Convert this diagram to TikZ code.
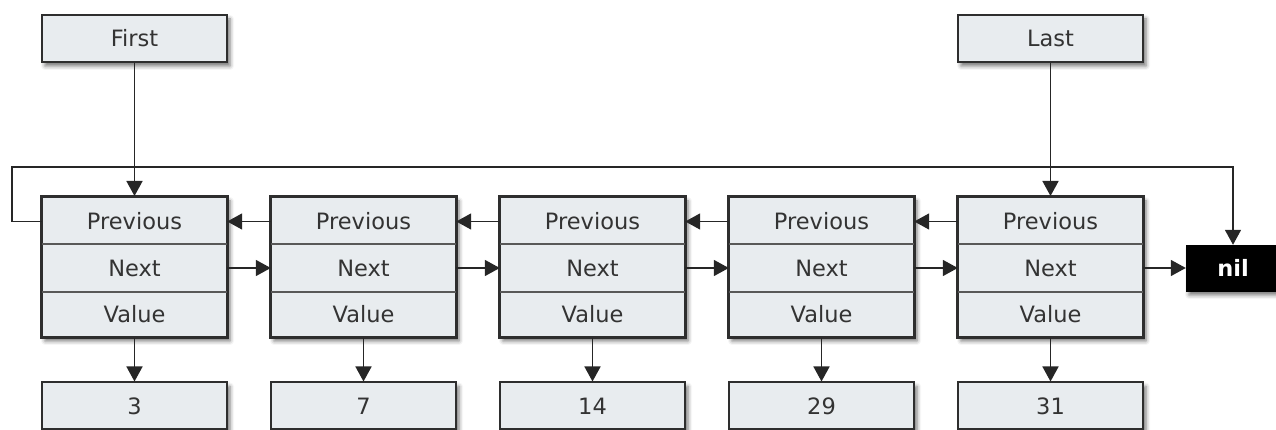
\documentclass[tikz,border=0pt]{standalone}
\usepackage{fontspec}
\setmainfont{DejaVu Sans}
\usetikzlibrary{arrows.meta,shadows.blur}
\definecolor{boxfill}{HTML}{E8ECEF}
\definecolor{boxline}{HTML}{2E2E2E}
\definecolor{txt}{HTML}{333333}
\tikzset{
  x=1pt,y=1pt,
  shadowed/.style={blur shadow={shadow xshift=3pt,shadow yshift=-4pt,shadow blur radius=4pt,shadow opacity=55}},
  frame/.style={draw=boxline,line width=2pt,fill=boxfill,minimum width=185pt,minimum height=140pt,inner sep=0pt,shadowed},
  row/.style={minimum width=185pt,minimum height=46.67pt,inner sep=0pt,text=txt,font=\fontsize{22.5}{27}\selectfont},
  box/.style={draw=boxline,line width=2pt,fill=boxfill,minimum width=185pt,minimum height=47pt,inner sep=0pt,text=txt,font=\fontsize{22.5}{27}\selectfont,shadowed},
  nilbox/.style={fill=black,draw=black,minimum width=94pt,minimum height=46pt,inner sep=0pt,text=white,font=\fontsize{22.5}{27}\selectfont\bfseries,shadowed},
  arr/.style={draw=black!85,line width=1.6pt,-{Triangle[length=15pt,width=16pt]}},
  divider/.style={draw=boxline!80,line width=2.5pt}
}
\begin{document}
\begin{tikzpicture}
\useasboundingbox (0,0) rectangle (1276,430);
% top boxes
\node[box] (first) at (134.5,391.5) {First};
\node[box] (last) at (1050.5,391.5) {Last};
% list items
\foreach \i/\cx/\val in {1/134.5/3,2/363.5/7,3/592.5/14,4/821.5/29,5/1050.5/31}{
  \node[frame] (f\i) at (\cx,163) {};
  \node[row] (p\i) at (\cx,208.5) {Previous};
  \node[row] (n\i) at (\cx,162) {Next};
  \node[row] (v\i) at (\cx,115.5) {Value};
  \draw[divider] ([yshift=0.5pt]n\i.north west) -- ([yshift=0.5pt]n\i.north east);
  \draw[divider] ([yshift=-0.5pt]n\i.south west) -- ([yshift=-0.5pt]n\i.south east);
  \draw[draw=boxline,line width=2pt] (f\i.south west) rectangle (f\i.north east);
  \node[box] (val\i) at (\cx,24) {\val};
  \draw[arr] (f\i.south) -- (val\i.north);
}
\node[nilbox] (nil) at (1233,162) {nil};
% links
\foreach \a/\b in {1/2,2/3,3/4,4/5}{
  \draw[arr] (n\a.east) -- (n\b.west);
  \draw[arr] (p\b.west) -- (p\a.east);
}
\draw[arr] (n5.east) -- (nil.west);
\draw[arr] (first.south) -- (f1.north);
\draw[arr] (last.south) -- (f5.north);
\coordinate (lc) at (12,263);
\coordinate (rc) at (1233,263);
\draw[arr] (p1.west) -| (lc) -- (rc) -- (nil.north);
\end{tikzpicture}
\end{document}
